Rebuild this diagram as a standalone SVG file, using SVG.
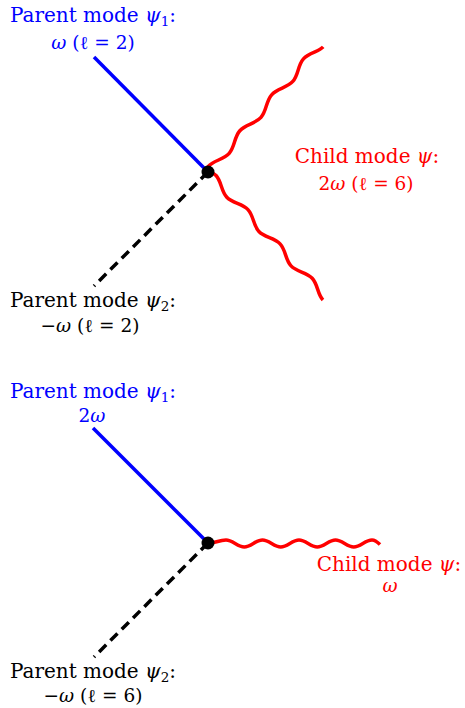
<svg xmlns="http://www.w3.org/2000/svg" width="465" height="708" viewBox="0 0 465 708">
<style>
text{font-family:"DejaVu Serif","Liberation Serif",serif;font-size:20px;text-anchor:middle}
text.mt{font-size:18.5px}
.b{fill:#0000ff}.r{fill:#ff0000}.k{fill:#000}
.m{font-style:italic}
.sub{font-size:13.5px}
.blue{stroke:#0000ff;stroke-width:3.5;fill:none;stroke-linecap:butt}
.dash{stroke:#000;stroke-width:3.5;fill:none;stroke-dasharray:10 6}
.wave{stroke:#ff0000;stroke-width:3.5;fill:none}
</style>
<g id="connectors">
<line class="blue" x1="94" y1="57" x2="208" y2="172"/>
<line class="dash" x1="208" y1="172" x2="94" y2="286"/>
<path class="wave" transform="translate(208,172) rotate(-48.5)" d="M0,-3 L4,-3.5 C12.72,-3.5 19.28,3.5 28,3.5 S43.28,-3.5 52,-3.5 S67.28,3.5 76,3.5 S91.28,-3.5 100,-3.5 S115.28,3.5 124,3.5 S139.28,-3.5 148,-3.5 C156.7,-3.5 163,3.3 170,3.4"/>
<path class="wave" transform="translate(208,172) rotate(46.9)" d="M0,-1.8 L7.75,-3.5 C16.29,-3.5 22.71,3.5 31.25,3.5 S46.21,-3.5 54.75,-3.5 S69.71,3.5 78.25,3.5 S93.21,-3.5 101.75,-3.5 S116.71,3.5 125.25,3.5 S140.21,-3.5 148.75,-3.5 S163.5,3.5 172,3.5"/>
<line class="blue" x1="93" y1="428" x2="208" y2="543"/>
<line class="dash" x1="208" y1="543" x2="94" y2="657"/>
<path class="wave" d="M208,543.4 C214,543.4 219.4,539.9 226,539.9 C232.63,539.9 237.62,546.9 244.25,546.9 S255.87,539.9 262.5,539.9 S274.12,546.9 280.75,546.9 S292.37,539.9 299,539.9 S310.62,546.9 317.25,546.9 S328.87,539.9 335.5,539.9 S347.12,546.9 353.75,546.9 S365.37,539.9 372,539.9 C375,539.9 378,542.5 380,544.5"/>
</g>
<g id="vertex1"><circle cx="208" cy="172" r="6.5" fill="#000"/></g>
<g id="vertex2"><circle cx="208" cy="543" r="6.5" fill="#000"/></g>
<g id="parent1-top">
<text class="b" x="93" y="22">Parent mode <tspan class="m">ψ</tspan><tspan class="sub" dy="4">1</tspan><tspan dy="-4">:</tspan></text>
<text class="b mt" x="93" y="49"><tspan class="m">ω</tspan> (ℓ = 2)</text>
</g>
<g id="child-top">
<text class="r" x="367" y="163">Child mode <tspan class="m">ψ</tspan>:</text>
<text class="r mt" x="366" y="190">2<tspan class="m">ω</tspan> (ℓ = 6)</text>
</g>
<g id="parent2-top">
<text class="k" x="93" y="307">Parent mode <tspan class="m">ψ</tspan><tspan class="sub" dy="4">2</tspan><tspan dy="-4">:</tspan></text>
<text class="k mt" x="90" y="332">−<tspan class="m">ω</tspan> (ℓ = 2)</text>
</g>
<g id="parent1-bottom">
<text class="b" x="93" y="398">Parent mode <tspan class="m">ψ</tspan><tspan class="sub" dy="4">1</tspan><tspan dy="-4">:</tspan></text>
<text class="b mt" x="92" y="422">2<tspan class="m">ω</tspan></text>
</g>
<g id="child-bottom">
<text class="r" x="389" y="571">Child mode <tspan class="m">ψ</tspan>:</text>
<text class="r mt m" x="390" y="592">ω</text>
</g>
<g id="parent2-bottom">
<text class="k" x="93" y="678">Parent mode <tspan class="m">ψ</tspan><tspan class="sub" dy="4">2</tspan><tspan dy="-4">:</tspan></text>
<text class="k mt" x="93" y="702">−<tspan class="m">ω</tspan> (ℓ = 6)</text>
</g>
</svg>
